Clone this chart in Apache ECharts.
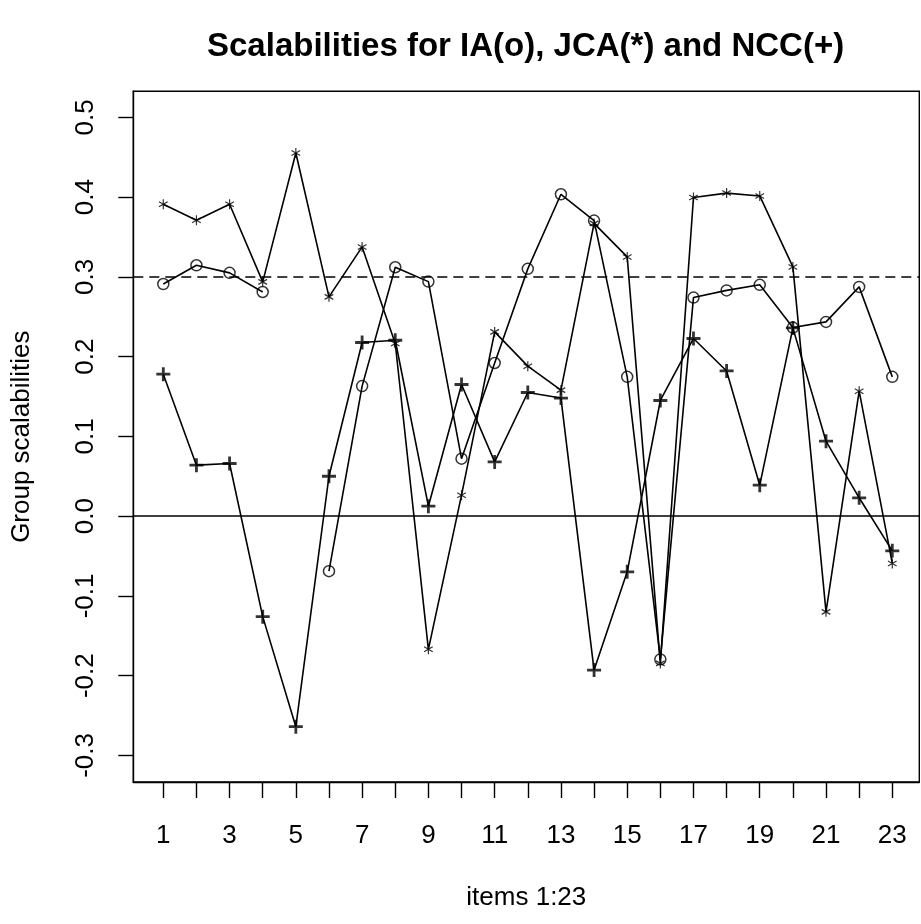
<!DOCTYPE html>
<html>
<head>
<meta charset="utf-8">
<script src="https://cdn.jsdelivr.net/npm/echarts@6/dist/echarts.min.js"></script>
<style>
  html, body { margin: 0; padding: 0; background: #fff; }
  #chart { width: 921px; height: 924px; }
</style>
</head>
<body>
<div id="chart"></div>
<script>
// ---- data ----
const items = [1,2,3,4,5,6,7,8,9,10,11,12,13,14,15,16,17,18,19,20,21,22,23];
const iaValues  = [0.291, 0.3145, 0.305, 0.281, null, -0.069, 0.163, 0.312, 0.294, 0.072, 0.192, 0.310, 0.4035, 0.3705, 0.1746, -0.1796, 0.274, 0.283, 0.290, 0.2364, 0.2435, 0.2874, 0.1746];
const jcaValues = [0.391, 0.371, 0.391, 0.2937, 0.4553, 0.2749, 0.3375, 0.2164, -0.167, 0.0263, 0.231, 0.188, 0.158, 0.367, 0.325, -0.1846, 0.3994, 0.405, 0.4014, 0.3124, -0.12, 0.1566, -0.0593];
const nccValues = [0.178, 0.0639, 0.066, -0.126, -0.264, 0.050, 0.2177, 0.2205, 0.0125, 0.165, 0.068, 0.155, 0.148, -0.193, -0.0698, 0.145, 0.2227, 0.182, 0.0388, 0.236, 0.094, 0.023, -0.0435];
const xTickValues  = items.slice();
const xLabelValues = [1,3,5,7,9,11,13,15,17,19,21,23];
const yTickValues  = [-0.3,-0.2,-0.1,0.0,0.1,0.2,0.3,0.4,0.5];
const refDashed = 0.3;
const refSolid = 0.0;
const titleText = 'Scalabilities for IA(o), JCA(*) and NCC(+)';
const xName = 'items 1:23';
const yName = 'Group scalabilities';

// ---- marker shapes ----
const plusPath = 'path://M0,4.0H10V6.0H0Z M4.0,0H6.0V10H4.0Z';
function starPath() {
  const c = 5, r = 5, t = 0.6;
  let d = '';
  [90, 30, -30].forEach(function (deg) {
    const a = deg * Math.PI / 180;
    const dx = Math.cos(a), dy = -Math.sin(a);
    const nx = -dy * t, ny = dx * t;
    const p = [
      [c + dx * r + nx, c + dy * r + ny],
      [c - dx * r + nx, c - dy * r + ny],
      [c - dx * r - nx, c - dy * r - ny],
      [c + dx * r - nx, c + dy * r - ny]
    ];
    d += 'M' + p.map(function (q) { return q[0].toFixed(3) + ',' + q[1].toFixed(3); }).join('L') + 'Z ';
  });
  return 'path://' + d.trim();
}

function pairs(vals) {
  return items.map(function (x, i) { return [x, vals[i]]; });
}
function pointsOnly(vals) {
  return items.map(function (x, i) { return [x, vals[i]]; }).filter(function (p) { return p[1] !== null; });
}

const FONT = 'Liberation Sans, Arial, Helvetica, sans-serif';
const lineW = 1.6;

const chart = echarts.init(document.getElementById('chart'), null, { renderer: 'canvas' });

function lineSeries(name, vals) {
  return {
    name: name,
    type: 'line',
    data: pairs(vals),
    showSymbol: false,
    symbol: 'none',
    connectNulls: false,
    silent: true,
    animation: false,
    lineStyle: { color: '#000', width: lineW },
    itemStyle: { color: '#000' },
    z: 2
  };
}

const option = {
  animation: false,
  backgroundColor: '#fff',
  title: {
    text: titleText,
    left: 207,
    top: 30,
    padding: 0,
    textStyle: { fontFamily: FONT, fontWeight: 'bold', fontSize: 33, color: '#000' }
  },
  grid: {
    left: 133.3, right: 1.7, top: 91.3, bottom: 142,
    show: true, borderColor: '#000', borderWidth: 1.4, backgroundColor: 'transparent'
  },
  xAxis: {
    type: 'value',
    min: 0.0946, max: 23.815,
    name: xName,
    nameLocation: 'middle',
    nameGap: 103,
    nameTextStyle: { fontFamily: FONT, fontSize: 26, color: '#000' },
    axisLine: { show: true, onZero: false, lineStyle: { color: '#000', width: 1.4 } },
    axisTick: { show: true, inside: false, length: 16, customValues: xTickValues, lineStyle: { color: '#000', width: 1.4 } },
    axisLabel: { show: true, margin: 41, customValues: xLabelValues, fontFamily: FONT, fontSize: 26, color: '#000',
                 formatter: function (v) { return String(Math.round(v)); } },
    splitLine: { show: false }
  },
  yAxis: {
    type: 'value',
    min: -0.3333, max: 0.5326,
    name: yName,
    nameLocation: 'middle',
    nameRotate: 90,
    nameGap: 98,
    nameTextStyle: { fontFamily: FONT, fontSize: 26, color: '#000' },
    axisLine: { show: true, onZero: false, lineStyle: { color: '#000', width: 1.4 } },
    axisTick: { show: true, inside: false, length: 15, customValues: yTickValues, lineStyle: { color: '#000', width: 1.4 } },
    axisLabel: { show: true, rotate: 90, margin: 34, customValues: yTickValues, fontFamily: FONT, fontSize: 26, color: '#000',
                 formatter: function (v) { return (Math.round(v * 10) / 10).toFixed(1); } },
    splitLine: { show: false }
  },
  series: [
    Object.assign(lineSeries('IA', iaValues), {
      markLine: {
        silent: true, symbol: 'none', animation: false,
        label: { show: false },
        data: [
          { yAxis: refDashed, lineStyle: { color: '#000', width: 1.5, type: [10, 6] } },
          { yAxis: refSolid, lineStyle: { color: '#000', width: 1.5, type: 'solid' } }
        ]
      }
    }),
    lineSeries('JCA', jcaValues),
    lineSeries('NCC', nccValues),
    {
      name: 'IA markers', type: 'scatter', data: pointsOnly(iaValues), silent: true,
      symbol: 'circle', symbolSize: 11,
      itemStyle: { color: 'rgba(0,0,0,0)', borderColor: '#000', borderWidth: 1.5 }, z: 3
    },
    {
      name: 'JCA markers', type: 'scatter', data: pointsOnly(jcaValues), silent: true,
      symbol: starPath(), symbolSize: 10, symbolKeepAspect: true,
      itemStyle: { color: '#000', borderWidth: 0 }, z: 3
    },
    {
      name: 'NCC markers', type: 'scatter', data: pointsOnly(nccValues), silent: true,
      symbol: plusPath, symbolSize: 14,
      itemStyle: { color: '#000', borderWidth: 0 }, z: 3
    }
  ]
};

chart.setOption(option);
</script>
</body>
</html>
